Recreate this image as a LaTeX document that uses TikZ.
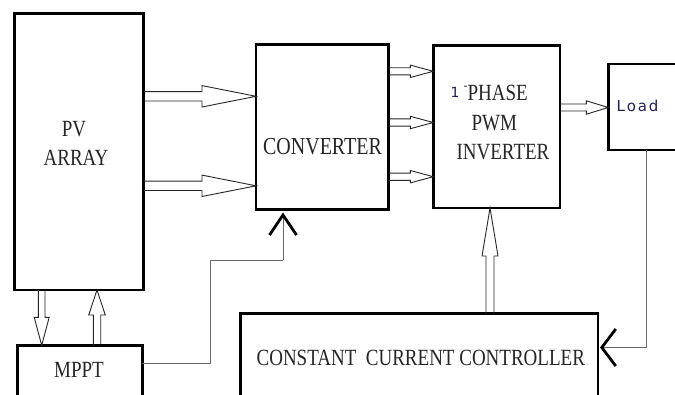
\documentclass[tikz,border=0pt]{standalone}
\usepackage{fontspec}
\setmainfont{Liberation Serif}
\newfontfamily\loadfont{DejaVu Sans}
\usetikzlibrary{arrows.meta,calc}
\definecolor{navy}{RGB}{30,30,90}
\definecolor{wire}{RGB}{105,105,105}
\newcommand{\tall}[1]{\scalebox{1}[1.22]{#1}}
% hollow block arrows: start coord, tip coord, shaft half-width, head half-width, head length
\newcommand{\blockR}[5]{\draw[hollow] let \p1=(#1),\p2=(#2) in (\x1,\y1+#3) -- (\x2-#5,\y1+#3) -- (\x2-#5,\y1+#4) -- (\x2,\y1) -- (\x2-#5,\y1-#4) -- (\x2-#5,\y1-#3) -- (\x1,\y1-#3);}
\newcommand{\blockUp}[5]{\draw[hollow] let \p1=(#1),\p2=(#2) in (\x1-#3,\y1) -- (\x1-#3,\y2-#5) -- (\x1-#4,\y2-#5) -- (\x1,\y2) -- (\x1+#4,\y2-#5) -- (\x1+#3,\y2-#5) -- (\x1+#3,\y1);}
\newcommand{\blockDown}[5]{\draw[hollow] let \p1=(#1),\p2=(#2) in (\x1-#3,\y1) -- (\x1-#3,\y2+#5) -- (\x1-#4,\y2+#5) -- (\x1,\y2) -- (\x1+#4,\y2+#5) -- (\x1+#3,\y2+#5) -- (\x1+#3,\y1);}
\begin{document}
\begin{tikzpicture}[x=1pt,y=-1pt,
  blk/.style={draw=black,line width=2.7pt,inner sep=0pt,outer sep=0pt,anchor=north west},
  lbl/.style={inner sep=0pt,anchor=base,font=\fontsize{19}{19}\selectfont,text=black!85},
  hollow/.style={draw=black!85,line width=0.9pt,line join=miter},
  wireline/.style={draw=wire,line width=0.8pt},
  vtip/.style={-{Straight Barb[length=20pt,width=27pt,line width=2.8pt,color=black]},draw=wire},
  vtipb/.style={-{Straight Barb[length=14pt,width=37pt,line width=2.8pt,color=black]},draw=wire}]
\useasboundingbox (0,0) rectangle (675,394);
\fill[white] (0,0) rectangle (675,394);
\clip (0,0) rectangle (675,394);

% blocks
\node[blk,minimum width=129.4pt,minimum height=276.3pt] (pv) at (14.3,13.7) {};
\node[blk,minimum width=132.7pt,minimum height=164.8pt] (conv) at (256,44.7) {};
\node[blk,minimum width=126.7pt,minimum height=162.3pt] (inv) at (433.3,45.7) {};
\node[blk,minimum width=72pt,minimum height=86pt] (load) at (608.3,64) {};
\node[blk,minimum width=125pt,minimum height=80pt] (mppt) at (17.3,345.3) {};
\node[blk,minimum width=357.3pt,minimum height=86pt] (ccc) at (240.7,313.7) {};

% labels
\node[lbl] (pvt1) at (74,136.5) {\tall{PV}};
\node[lbl] (pvt2) at (76,165) {\tall{ARRAY}};
\node[lbl] (convt) at (322.5,154.5) {\tall{\fontsize{20}{20}\selectfont CONVERTER}};
\node[lbl,anchor=base west] (invt1) at (450.5,100.5) {\raisebox{3pt}{\loadfont\fontsize{14}{14}\selectfont\color{navy}1}\hspace{4pt}\raisebox{11pt}{\fontsize{12}{12}\selectfont -}\tall{PHASE}};
\node[lbl] (invt2) at (494.3,130) {\tall{PWM}};
\node[lbl] (invt3) at (503,159.5) {\tall{INVERTER}};
\node[inner sep=0pt,anchor=base west,text=navy,font=\loadfont\fontsize{15}{15}\selectfont] (loadt) at (616.5,111.5) {L\kern1.8pt o\kern1.8pt a\kern1.8pt d};
\node[lbl] (mpptt) at (79,377.5) {\tall{MPPT}};
\node[lbl] (ccct) at (420.8,365) {\tall{CONSTANT\ \ CURRENT CONTROLLER}};

% anchor points for block arrows
\coordinate (a1) at ($(pv.north east)+(0,82.6)$);
\coordinate (a2) at ($(pv.north east)+(0,172.1)$);
\coordinate (b1) at ($(conv.north east)+(0,26.6)$);
\coordinate (b2) at ($(conv.north east)+(0,77.8)$);
\coordinate (b3) at ($(conv.north east)+(0,132)$);
\coordinate (c1) at ($(inv.north east)+(0,61.8)$);
\coordinate (d1) at ($(pv.south west)+(27.4,0)$);
\coordinate (d2) at ($(mppt.north west)+(79.7,0)$);
\coordinate (e1) at ($(ccc.north west)+(249.3,0)$);

\blockR{a1}{a1 -| conv.west}{4.7pt}{10.7pt}{54pt}
\blockR{a2}{a2 -| conv.west}{4.7pt}{10.7pt}{54pt}
\blockR{b1}{b1 -| inv.west}{3.6pt}{6.2pt}{23pt}
\blockR{b2}{b2 -| inv.west}{3.6pt}{6.2pt}{23pt}
\blockR{b3}{b3 -| inv.west}{3.6pt}{6.2pt}{23pt}
\blockR{c1}{c1 -| load.west}{3.5pt}{6.7pt}{22pt}
\blockDown{d1}{d1 |- mppt.north}{3.3pt}{7.5pt}{28pt}
\blockUp{d2}{d2 |- pv.south}{3.7pt}{8.3pt}{25pt}
\blockUp{e1}{e1 |- inv.south}{4pt}{8pt}{48pt}

% thin control wires
\coordinate (m0) at ($(mppt.north east)+(0,17.7)$);
\coordinate (m1) at (210,363);
\coordinate (m2) at (210,260);
\coordinate (m3) at ($(conv.south west)+(27,0)$);
\draw[wireline] (m0) -- (m1 |- m0) -- (m2) -- (m2 -| m3);
\draw[wireline,vtip] (m2 -| m3) -- ($(m3)+(0,3)$);

\coordinate (l0) at ($(load.south west)+(38.3,0)$);
\coordinate (l1) at ($(ccc.north east)+(0,33.8)$);
\draw[wireline] (l0) -- (l0 |- l1) -- ($(l1)+(14,0)$);
\draw[wireline,vtipb] ($(l1)+(14,0)$) -- ($(l1)+(2,0)$);
\end{tikzpicture}
\end{document}
